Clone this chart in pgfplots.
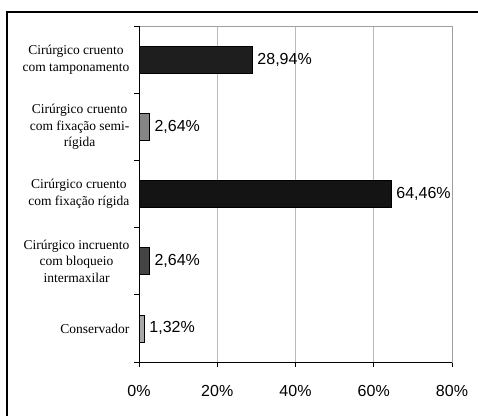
\documentclass[border=0pt]{standalone}
\usepackage{fontspec}
\setmainfont{Liberation Serif}
\newfontfamily\arial{Liberation Sans}
\usepackage{pgfplots}
\pgfplotsset{compat=1.18}
\definecolor{cA}{HTML}{1E1E1E}
\definecolor{cB}{HTML}{858585}
\definecolor{cC}{HTML}{141414}
\definecolor{cD}{HTML}{444444}
\definecolor{cE}{HTML}{A8A8A8}
\begin{document}
\begin{tikzpicture}[x=1pt,y=1pt]
\useasboundingbox (0,0) rectangle (478,415);
\begin{scope}
\clip (0,0) rectangle (478,415);
\draw[line width=1.8pt] (7,-10) -- (7,403) -- (490,403);
\end{scope}
\begin{axis}[
  at={(139pt,53pt)}, anchor=south west,
  scale only axis, width=313pt, height=336pt,
  xmin=0, xmax=80, ymin=0.5, ymax=5.5,
  xbar, bar width=27pt, bar shift=0pt,
  xtick={0,20,40,60,80},
  xticklabels={0\%,20\%,40\%,60\%,80\%},
  xticklabel style={font=\arial\fontsize{16}{19}\selectfont, yshift=-20pt},
  ytick={1,2,3,4,5},
  yticklabels={Conservador,{Cirúrgico incruento\\com bloqueio\\intermaxilar},{Cirúrgico cruento\\com fixação rígida},{Cirúrgico cruento\\com fixação semi-\\rígida},{Cirúrgico cruento\\com tamponamento}},
  yticklabel style={align=center, font=\fontsize{13.5}{16.5}\selectfont, xshift=-6pt},
  major tick length=0pt, minor tick length=5pt,
  minor xtick={0,20,40,60,80},
  minor ytick={0.5,1.5,...,5.5},
  tick align=outside, tick pos=left,
  minor tick style={black, line width=0.8pt},
  axis line style={gray!75, line width=0.8pt},
  xmajorgrids, major grid style={gray!55, line width=0.6pt},
  nodes near coords, point meta=explicit symbolic,
  every node near coord/.append style={font=\arial\fontsize{16}{19}\selectfont, black, anchor=west, inner sep=5pt},
  clip=false,
]
\addplot[fill=cE, draw=black, line width=0.5pt] coordinates {(1.32,1) [1,32\%]};
\addplot[fill=cD, draw=black, line width=0.5pt] coordinates {(2.64,2) [2,64\%]};
\addplot[fill=cC, draw=black, line width=0.5pt] coordinates {(64.46,3) [64,46\%]};
\addplot[fill=cB, draw=black, line width=0.5pt] coordinates {(2.64,4) [2,64\%]};
\addplot[fill=cA, draw=black, line width=0.5pt] coordinates {(28.94,5) [28,94\%]};
\draw[black, line width=0.9pt] (rel axis cs:0,1) -- (rel axis cs:0,0) -- (rel axis cs:1,0);
\end{axis}
\end{tikzpicture}
\end{document}
